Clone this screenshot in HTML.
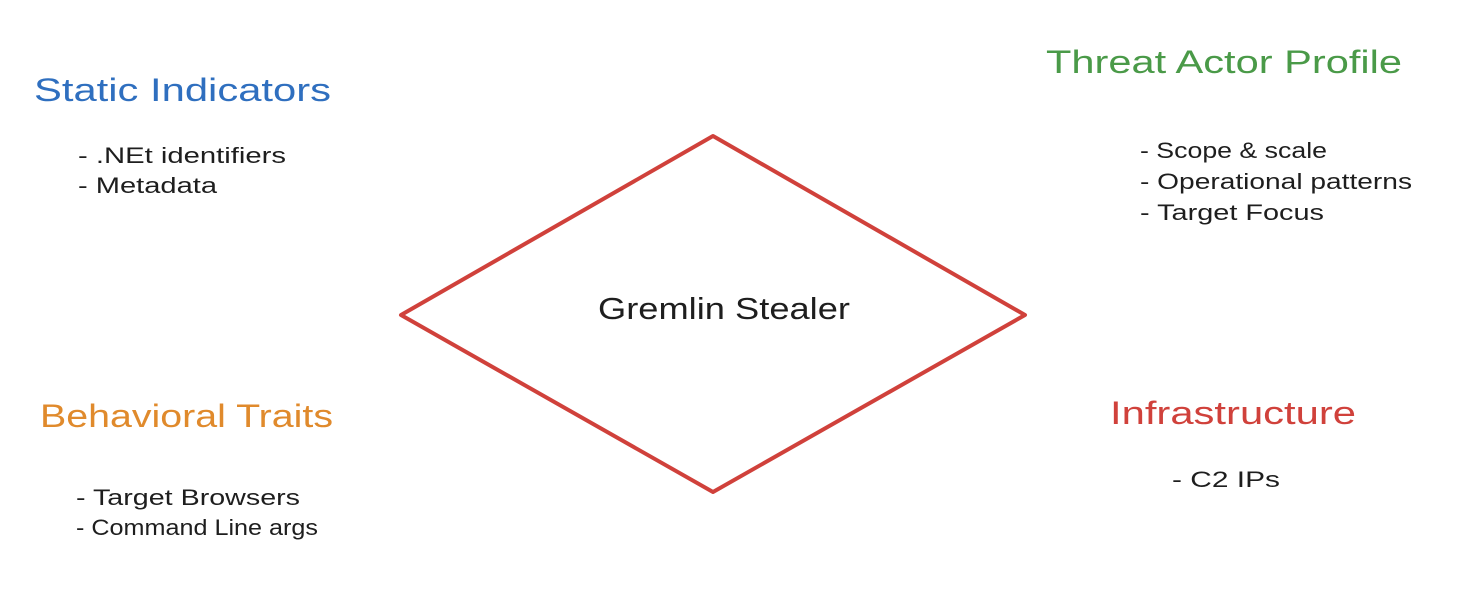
<!DOCTYPE html>
<html><head><meta charset="utf-8"><style>
html,body{margin:0;padding:0;background:#fff;}
svg{display:block}
text{font-family:"Liberation Sans",sans-serif;}
</style></head><body>
<svg width="1468" height="592" viewBox="0 0 1468 592">
<rect width="1468" height="592" fill="#fff"/>
<polygon points="713,136 1025,315 713,492 401,315" fill="none" stroke="#d0413b" stroke-width="4" stroke-linejoin="round"/>
<text x="598" y="319" font-size="31" fill="#1e1e1e" textLength="252" lengthAdjust="spacingAndGlyphs">Gremlin Stealer</text>

<text x="34" y="101" font-size="32" fill="#2f6fbf" textLength="297" lengthAdjust="spacingAndGlyphs">Static Indicators</text>
<text x="78" y="163" font-size="22" fill="#1e1e1e" textLength="208" lengthAdjust="spacingAndGlyphs">- .NEt identifiers</text>
<text x="78" y="193" font-size="22" fill="#1e1e1e" textLength="139" lengthAdjust="spacingAndGlyphs">- Metadata</text>

<text x="1046" y="73" font-size="32" fill="#4a9a48" textLength="356" lengthAdjust="spacingAndGlyphs">Threat Actor Profile</text>
<text x="1140" y="158" font-size="22" fill="#1e1e1e" textLength="187" lengthAdjust="spacingAndGlyphs">- Scope &amp; scale</text>
<text x="1140" y="189" font-size="22" fill="#1e1e1e" textLength="272" lengthAdjust="spacingAndGlyphs">- Operational patterns</text>
<text x="1140" y="220" font-size="22" fill="#1e1e1e" textLength="184" lengthAdjust="spacingAndGlyphs">- Target Focus</text>

<text x="40" y="427" font-size="32" fill="#e08a2c" textLength="293" lengthAdjust="spacingAndGlyphs">Behavioral Traits</text>
<text x="76" y="505" font-size="22" fill="#1e1e1e" textLength="224" lengthAdjust="spacingAndGlyphs">- Target Browsers</text>
<text x="76" y="535" font-size="22" fill="#1e1e1e" textLength="242" lengthAdjust="spacingAndGlyphs">- Command Line args</text>

<text x="1110" y="424" font-size="32" fill="#d0413b" textLength="246" lengthAdjust="spacingAndGlyphs">Infrastructure</text>
<text x="1172" y="487" font-size="22" fill="#1e1e1e" textLength="108" lengthAdjust="spacingAndGlyphs">- C2 IPs</text>
</svg>
</body></html>
